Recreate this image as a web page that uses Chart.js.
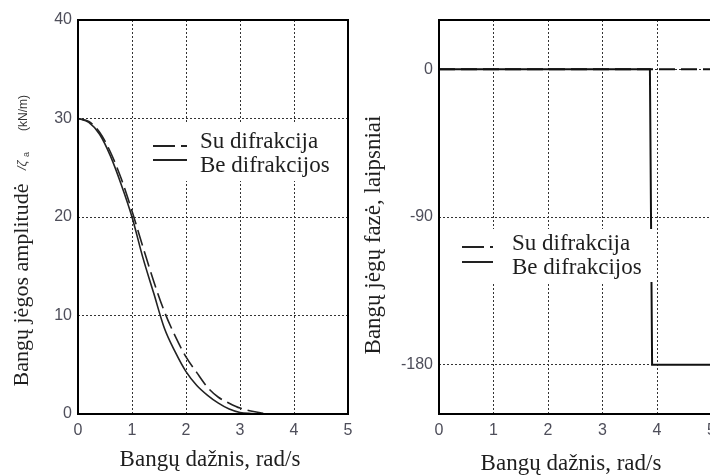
<!DOCTYPE html>
<html>
<head>
<meta charset="utf-8">
<script src="https://cdn.jsdelivr.net/npm/chart.js@4.4.0/dist/chart.umd.min.js"></script>
<style>
html,body{margin:0;padding:0;background:#fff;}
body{width:710px;height:475px;overflow:hidden;position:relative;}
#amp{position:absolute;left:0;top:0;}
#phase{position:absolute;left:360px;top:0;}
</style>
</head>
<body>
<canvas id="amp" width="360" height="475"></canvas>
<canvas id="phase" width="380" height="475"></canvas>
<script>
// bangų dažnis, rad/s
const freq = [0,0.2,0.4,0.6,0.8,1.0,1.2,1.4,1.6,1.8,2.0,2.2,2.4,2.6,2.8,3.0,3.2,3.4,3.6];
// amplitudė, kN/m
const ampWithDiff = [30,29.7,28.6,26.6,23.9,20.6,17.0,13.5,10.4,7.9,5.8,4.2,2.7,1.7,1.1,0.6,0.3,0.1,0];
const ampNoDiff   = [30,29.6,28.4,26.2,23.3,20.0,15.9,12.3,8.7,6.3,4.3,2.9,1.9,1.1,0.5,0.15,0.05,0.02,0];
// fazė, laipsniai
const phaseFreqWithDiff = [0,5];
const phaseWithDiff     = [0,0];
const phaseFreqNoDiff   = [0,3.87,3.91,5];
const phaseNoDiff       = [0,0,-180,-180];

const freqTicks  = [0,1,2,3,4,5];
const ampTicks   = [0,10,20,30,40];
const phaseTicks = [-180,-90,0];
const seriesLabels = ['Su difrakcija','Be difrakcijos'];

const SERIF = '"Liberation Serif","Times New Roman",serif';
const SANS = '"Liberation Sans",Arial,sans-serif';
const INK = '#1e1e1e';
const TICK_INK = '#4e4e5a';

const pts = (xs, ys) => xs.map((x,i) => ({x, y: ys[i]}));

function rotText(ctx, text, x, y, font, align, color){
  ctx.save();
  ctx.translate(x, y);
  ctx.rotate(-Math.PI/2);
  ctx.font = font;
  ctx.fillStyle = color || INK;
  ctx.textAlign = align || 'center';
  ctx.textBaseline = 'alphabetic';
  ctx.fillText(text, 0, 0);
  ctx.restore();
}

// heavy frame round the plot area
const framePlugin = {
  id: 'frame',
  afterDraw(chart){
    const {ctx, chartArea: a} = chart;
    ctx.save();
    ctx.strokeStyle = '#000';
    ctx.lineWidth = 2;
    ctx.strokeRect(a.left, a.top, a.right - a.left, a.bottom - a.top);
    ctx.restore();
  }
};

// boxed legend sitting inside the plot
function legendPlugin(box, sx0, sx1, textX, rows){
  return {
    id: 'boxLegend',
    afterDatasetsDraw(chart){
      const ctx = chart.ctx;
      ctx.save();
      ctx.fillStyle = '#fff';
      ctx.fillRect(box[0], box[1], box[2] - box[0], box[3] - box[1]);
      chart.data.datasets.forEach((ds, i) => {
        const r = rows[i];
        ctx.strokeStyle = '#222';
        ctx.lineWidth = 2;
        ctx.setLineDash(ds.borderDash ? [22,6] : []);
        ctx.beginPath();
        ctx.moveTo(sx0, r.line);
        ctx.lineTo(sx1, r.line);
        ctx.stroke();
        ctx.setLineDash([]);
        ctx.font = `23px ${SERIF}`;
        ctx.fillStyle = INK;
        ctx.textAlign = 'left';
        ctx.textBaseline = 'alphabetic';
        ctx.fillText(ds.label, textX, r.text);
      });
      ctx.restore();
    }
  };
}

function axes(yMin, yMax, yTicks, yWidth){
  const grid = {color: '#333', lineWidth: 1, drawTicks: false};
  const border = {display: false, dash: [2,2]};
  const ticks = {color: TICK_INK, font: {family: SANS, size: 16}};
  return {
    x: {
      type: 'linear', min: 0, max: 5,
      grid, border,
      ticks: {...ticks, padding: 7, autoSkip: false},
      afterBuildTicks: s => { s.ticks = freqTicks.map(v => ({value: v})); },
      afterFit: s => { s.height = 61; }
    },
    y: {
      type: 'linear', min: yMin, max: yMax,
      grid, border,
      ticks: {...ticks, padding: 6},
      afterBuildTicks: s => { s.ticks = yTicks.map(v => ({value: v})); },
      afterFit: s => { s.width = yWidth; }
    }
  };
}

const baseOpts = {
  responsive: false,
  animation: false,
  devicePixelRatio: 1,
  plugins: {legend: {display: false}, tooltip: {enabled: false}},
  elements: {point: {radius: 0}}
};

// ---- amplitude ----
new Chart(document.getElementById('amp'), {
  type: 'line',
  data: {
    datasets: [
      {label: seriesLabels[0], data: pts(freq, ampWithDiff), borderColor: '#222', borderWidth: 1.6,
       borderDash: [16,6], cubicInterpolationMode: 'monotone'},
      {label: seriesLabels[1], data: pts(freq, ampNoDiff), borderColor: '#222', borderWidth: 1.6,
       cubicInterpolationMode: 'monotone'}
    ]
  },
  options: {
    ...baseOpts,
    layout: {padding: {top: 20, right: 12, bottom: 0, left: 0}},
    scales: axes(0, 40, ampTicks, 78)
  },
  plugins: [
    legendPlugin([148,122,346,181], 153, 187, 200, [{line: 146, text: 148}, {line: 160, text: 172}]),
    framePlugin,
    {
      id: 'ampTitles',
      afterDraw(chart){
        const ctx = chart.ctx;
        ctx.save();
        ctx.font = `23px ${SERIF}`;
        ctx.fillStyle = INK;
        ctx.textAlign = 'center';
        ctx.fillText('Bangų dažnis, rad/s', 210, 466);
        ctx.restore();
        rotText(ctx, 'Bangų jėgos amplitudė', 28, 285, `22px ${SERIF}`, 'center');
        rotText(ctx, '/ζ', 26, 170, `italic 13px ${SANS}`, 'left', '#444');
        rotText(ctx, 'a', 29, 157, `9px ${SANS}`, 'left', '#444');
        rotText(ctx, '(kN/m)', 27, 131, `12px ${SANS}`, 'left', '#333');
      }
    }
  ]
});

// ---- phase ----
new Chart(document.getElementById('phase'), {
  type: 'line',
  data: {
    datasets: [
      {label: seriesLabels[0], data: pts(phaseFreqWithDiff, phaseWithDiff), borderColor: '#111', borderWidth: 2,
       borderDash: [16,6]},
      {label: seriesLabels[1], data: pts(phaseFreqNoDiff, phaseNoDiff), borderColor: '#111', borderWidth: 2}
    ]
  },
  options: {
    ...baseOpts,
    layout: {padding: {top: 20, right: 28.5, bottom: 0, left: 0}},
    scales: axes(-210, 30, phaseTicks, 79)
  },
  plugins: [
    legendPlugin([95,229,293,282], 102, 133, 152, [{line: 247, text: 250}, {line: 262, text: 274}]),
    framePlugin,
    {
      id: 'phaseTitles',
      afterDraw(chart){
        const ctx = chart.ctx;
        ctx.save();
        ctx.font = `23px ${SERIF}`;
        ctx.fillStyle = INK;
        ctx.textAlign = 'center';
        ctx.fillText('Bangų dažnis, rad/s', 211, 470);
        ctx.restore();
        rotText(ctx, 'Bangų jėgų fazė, laipsniai', 20, 235, `23px ${SERIF}`, 'center');
      }
    }
  ]
});
</script>
</body>
</html>
